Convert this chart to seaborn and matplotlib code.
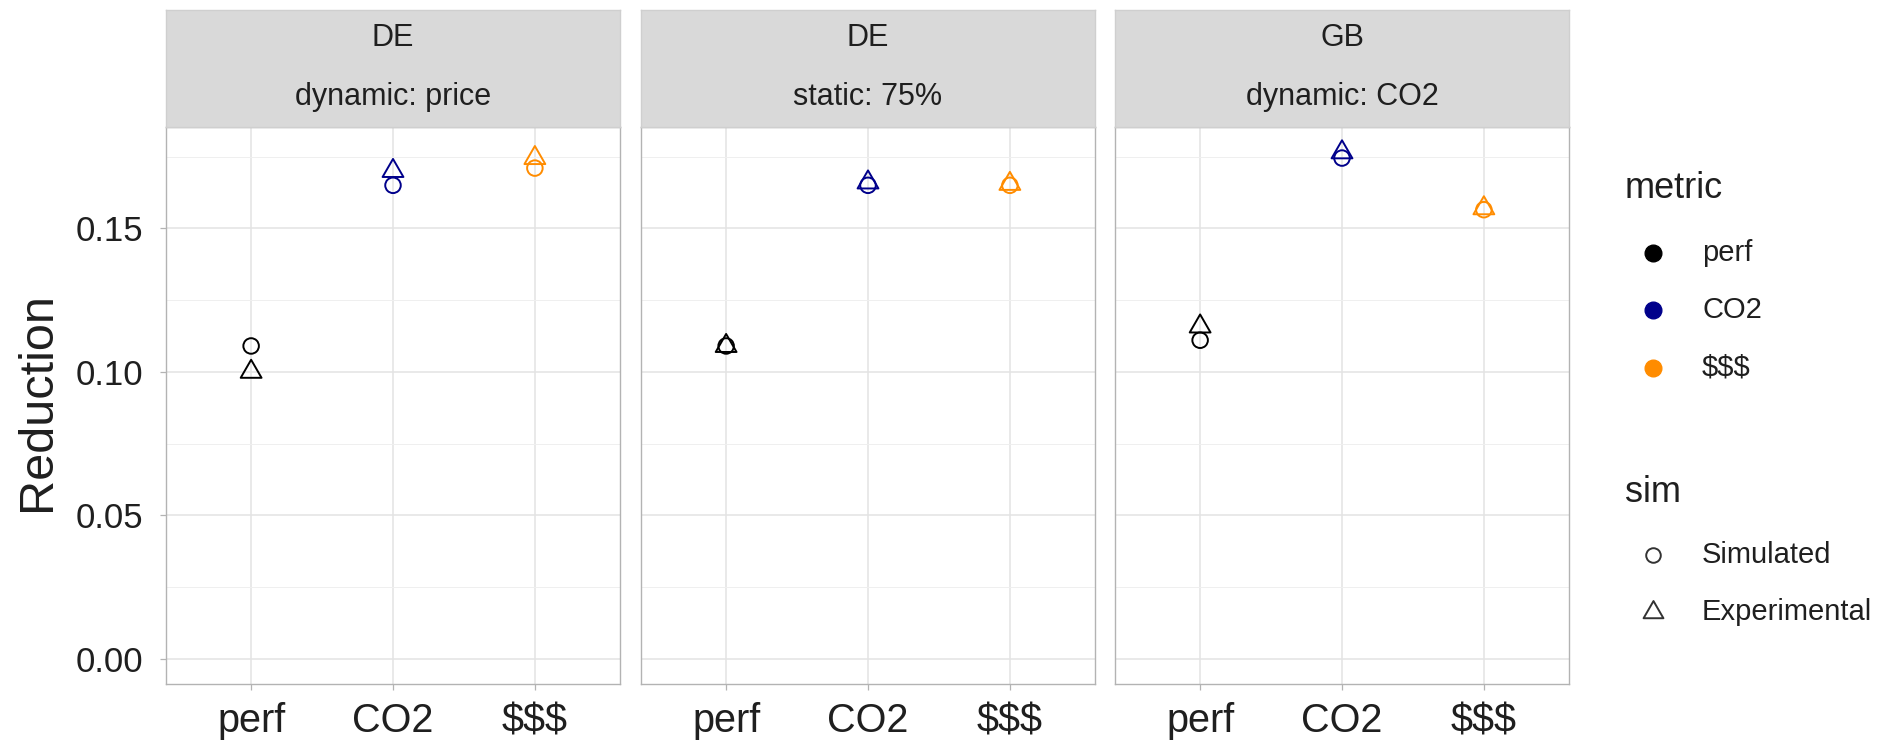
import numpy as np
import pandas as pd
import matplotlib
matplotlib.use("Agg")
import matplotlib.pyplot as plt
from matplotlib.lines import Line2D
from matplotlib.path import Path
from matplotlib.ticker import FixedLocator, FuncFormatter
import seaborn as sns

# ---- data -------------------------------------------------------------
regions = ["DE", "DE", "GB"]
strategies = ["dynamic: price", "static: 75%", "dynamic: CO2"]
metrics = ["perf", "CO2", "$$$"]
sim_levels = ["Simulated", "Experimental"]

simulated = [
    [0.109, 0.165, 0.171],
    [0.109, 0.165, 0.165],
    [0.111, 0.1745, 0.1565],
]
experimental = [
    [0.100, 0.170, 0.1745],
    [0.109, 0.166, 0.1655],
    [0.1158, 0.1765, 0.157],
]

y_ticks = [0.00, 0.05, 0.10, 0.15]
y_minor = [0.025, 0.075, 0.125, 0.175]

metric_colors = {"perf": "#000000", "CO2": "#00008B", "$$$": "#FF8C00"}

# ---- long-form table --------------------------------------------------
rows = []
for p, (reg, strat) in enumerate(zip(regions, strategies)):
    for m, metric in enumerate(metrics):
        rows.append((p, reg, strat, metric, "Simulated", simulated[p][m]))
        rows.append((p, reg, strat, metric, "Experimental", experimental[p][m]))
df = pd.DataFrame(rows, columns=["panel", "region", "strategy", "metric", "sim", "Reduction"])

# ---- style ------------------------------------------------------------
sns.set_theme(style="white")
plt.rcParams["font.family"] = ["Liberation Sans", "DejaVu Sans"]

W, H = 1902, 744
fig = plt.figure(figsize=(W / 100, H / 100), dpi=100)
fig.patch.set_facecolor("white")

def fx(px):
    return px / W

def fy(px):
    return 1 - px / H

panel_left = [166, 641, 1115]
panel_w = 454
panel_top, panel_bot = 127, 684
strip_top = 10

# closed equilateral triangle centred on its centroid
tri = Path([(0.0, 1.0), (-0.866, -0.5), (0.866, -0.5), (0.0, 1.0)],
           [Path.MOVETO, Path.LINETO, Path.LINETO, Path.CLOSEPOLY])
markers = {"Simulated": "o", "Experimental": tri}
sizes = {"Simulated": 125, "Experimental": 300}

ymax = df["Reduction"].max()
pad = 0.05 * (ymax - 0.0)
ylim = (0.0 - pad, ymax + pad)

border_c = "#B3B3B3"
grid_major = "#E3E3E3"
grid_minor = "#EFEFEF"
text_c = "#1F1F1F"

axes = []
for p in range(3):
    ax = fig.add_axes([fx(panel_left[p]), fy(panel_bot),
                       fx(panel_w), (panel_bot - panel_top) / H])
    sub = df[df["panel"] == p]
    sns.scatterplot(data=sub, x="metric", y="Reduction", hue="metric",
                    hue_order=metrics, palette=metric_colors,
                    style="sim", style_order=sim_levels, markers=markers,
                    size="sim", sizes=sizes, size_order=sim_levels,
                    legend=False, ax=ax, zorder=3)
    # hollow markers drawn in the hue colour
    for coll in ax.collections:
        fc = coll.get_facecolors()
        coll.set_edgecolors(fc)
        coll.set_facecolors("none")
        coll.set_linewidths(1.4)

    ax.set_xlim(-0.6, 2.6)
    ax.set_ylim(*ylim)
    ax.set_xlabel("")
    ax.set_ylabel("")
    ax.yaxis.set_major_locator(FixedLocator(y_ticks))
    ax.yaxis.set_minor_locator(FixedLocator(y_minor))
    ax.yaxis.set_major_formatter(FuncFormatter(lambda v, _: f"{v:.2f}"))
    ax.grid(True, which="major", color=grid_major, linewidth=1.1, zorder=0)
    ax.grid(True, which="minor", axis="y", color=grid_minor, linewidth=0.7, zorder=0)
    ax.set_axisbelow(True)
    for s in ax.spines.values():
        s.set_color(border_c)
        s.set_linewidth(1.0)
    ax.tick_params(axis="x", which="major", bottom=True, length=4, width=0.9,
                   color=border_c, pad=9, labelsize=28.5, labelcolor=text_c)
    ax.tick_params(axis="y", which="major", left=(p == 0), length=4, width=0.9,
                   color=border_c, pad=12.5, labelsize=25, labelcolor=text_c,
                   labelleft=(p == 0))
    ax.tick_params(axis="y", which="minor", left=False)
    axes.append(ax)

    # facet strip
    sax = fig.add_axes([fx(panel_left[p]), fy(panel_top),
                        fx(panel_w), (panel_top - strip_top) / H])
    sax.set_facecolor("#D9D9D9")
    sax.set_xticks([])
    sax.set_yticks([])
    for s in sax.spines.values():
        s.set_color("#CFCFCF")
        s.set_linewidth(1.0)
    sax.text(0.5, 1 - (46 - strip_top) / (panel_top - strip_top), regions[p],
             ha="center", va="baseline", fontsize=22, color=text_c,
             transform=sax.transAxes)
    sax.text(0.5, 1 - (105 - strip_top) / (panel_top - strip_top), strategies[p],
             ha="center", va="baseline", fontsize=22, color=text_c,
             transform=sax.transAxes)

fig.text(fx(38), fy(402), "Reduction", rotation=90, ha="center", va="center",
         fontsize=35, color=text_c)

# ---- legends (titles placed as text, keys as marker rows) -------------
key_x, label_x = 1653, 1702

fig.text(fx(1625), fy(188), "metric", ha="left", va="center",
         fontsize=26, color=text_c)
metric_rows = [253, 310, 368]
for m, yy in zip(metrics, metric_rows):
    fig.add_artist(Line2D([fx(key_x)], [fy(yy)], linestyle="", marker="o",
                          markersize=12, markerfacecolor=metric_colors[m],
                          markeredgecolor=metric_colors[m],
                          transform=fig.transFigure))
    fig.text(fx(label_x), fy(yy), m, ha="left", va="center",
             fontsize=21, color=text_c)

fig.text(fx(1625), fy(492), "sim", ha="left", va="center",
         fontsize=26, color=text_c)
sim_rows = [555, 612]
sim_markers = [("o", 10.5), (tri, 16.5)]
for (mk, ms), lab, yy in zip(sim_markers, sim_levels, sim_rows):
    fig.add_artist(Line2D([fx(key_x)], [fy(yy)], linestyle="", marker=mk,
                          markersize=ms, markerfacecolor="none",
                          markeredgecolor="#333333", markeredgewidth=1.4,
                          transform=fig.transFigure))
    fig.text(fx(label_x), fy(yy), lab, ha="left", va="center",
             fontsize=21, color=text_c)

fig.savefig("out.png", dpi=100, facecolor="white")
